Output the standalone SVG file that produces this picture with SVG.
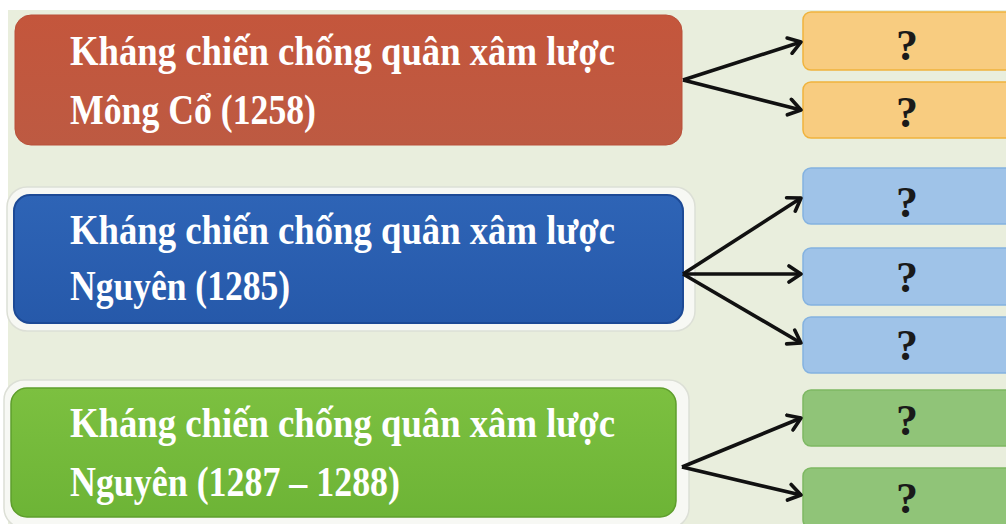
<svg xmlns="http://www.w3.org/2000/svg" width="1006" height="524" viewBox="0 0 1006 524">
  <defs>
    <marker id="arr" markerWidth="20" markerHeight="20" refX="15" refY="10" orient="auto" markerUnits="userSpaceOnUse">
      <path d="M3,2 L15,10 L3,18" fill="none" stroke="#111" stroke-width="3.6" stroke-linecap="round" stroke-linejoin="round"/>
    </marker>
    <linearGradient id="gRed" x1="0" y1="0" x2="0" y2="1">
      <stop offset="0" stop-color="#c4563c"/>
      <stop offset="1" stop-color="#bd5a42"/>
    </linearGradient>
    <linearGradient id="gBlue" x1="0" y1="0" x2="0" y2="1">
      <stop offset="0" stop-color="#2e64b6"/>
      <stop offset="1" stop-color="#2659aa"/>
    </linearGradient>
    <linearGradient id="gGreen" x1="0" y1="0" x2="0" y2="1">
      <stop offset="0" stop-color="#7cc040"/>
      <stop offset="1" stop-color="#6db436"/>
    </linearGradient>
  </defs>
  <style>
    .big { font-family: "Liberation Serif", "Times New Roman", serif; font-weight: bold; font-size: 43px; fill: #ffffff; }
    .q { font-family: "Liberation Serif", "Times New Roman", serif; font-weight: bold; font-size: 44px; fill: #1a1a1a; text-anchor: middle; }
    .glow { fill: #f7f8f4; stroke: #dcdfd6; stroke-width: 1.5; }
    .yel { fill: #f8cc80; stroke: #f0b33c; stroke-width: 1.5; }
    .lblue { fill: #9fc3e8; stroke: #84b2e0; stroke-width: 1.5; }
    .lgreen { fill: #90c478; stroke: #7db862; stroke-width: 1.5; }
    .conn line { stroke: #111; stroke-width: 3.6; marker-end: url(#arr); }
  </style>
  <rect x="0" y="0" width="1006" height="524" fill="#ffffff"/>
  <rect x="8" y="10" width="998" height="514" fill="#e9eedd"/>

  <g id="node-red">
    <rect x="15" y="15" width="667" height="130" rx="16" fill="url(#gRed)" stroke="#b9503a" stroke-width="1"/>
    <text class="big" x="70" y="65" textLength="545" lengthAdjust="spacingAndGlyphs">Kháng chiến chống quân xâm lược</text>
    <text class="big" x="70" y="124" textLength="246" lengthAdjust="spacingAndGlyphs">Mông Cổ (1258)</text>
  </g>
  <g id="node-y1">
    <rect class="yel" x="803" y="12" width="215" height="58" rx="8"/>
    <text class="q" x="907" y="60">?</text>
  </g>
  <g id="node-y2">
    <rect class="yel" x="803" y="82" width="215" height="56" rx="8"/>
    <text class="q" x="907" y="127">?</text>
  </g>

  <g id="node-blue">
    <rect class="glow" x="7" y="187" width="688" height="144" rx="20"/>
    <rect x="14" y="195" width="669" height="128" rx="16" fill="url(#gBlue)" stroke="#1d4a96" stroke-width="2"/>
    <text class="big" x="70" y="244" textLength="545" lengthAdjust="spacingAndGlyphs">Kháng chiến chống quân xâm lược</text>
    <text class="big" x="70" y="300" textLength="220" lengthAdjust="spacingAndGlyphs">Nguyên (1285)</text>
  </g>
  <g id="node-b1">
    <rect class="lblue" x="803" y="168" width="215" height="56" rx="8"/>
    <text class="q" x="907" y="217">?</text>
  </g>
  <g id="node-b2">
    <rect class="lblue" x="803" y="248" width="215" height="57" rx="8"/>
    <text class="q" x="907" y="292">?</text>
  </g>
  <g id="node-b3">
    <rect class="lblue" x="803" y="317" width="215" height="56" rx="8"/>
    <text class="q" x="907" y="360">?</text>
  </g>

  <g id="node-green">
    <rect class="glow" x="4" y="380" width="685" height="148" rx="20"/>
    <rect x="11" y="388" width="665" height="129" rx="16" fill="url(#gGreen)" stroke="#5e9e2c" stroke-width="1.5"/>
    <text class="big" x="70" y="437" textLength="545" lengthAdjust="spacingAndGlyphs">Kháng chiến chống quân xâm lược</text>
    <text class="big" x="70" y="496" textLength="330" lengthAdjust="spacingAndGlyphs">Nguyên (1287 – 1288)</text>
  </g>
  <g id="node-g1">
    <rect class="lgreen" x="803" y="390" width="215" height="56" rx="8"/>
    <text class="q" x="907" y="435">?</text>
  </g>
  <g id="node-g2">
    <rect class="lgreen" x="803" y="468" width="215" height="60" rx="8"/>
    <text class="q" x="907" y="513">?</text>
  </g>

  <g id="connectors" class="conn">
    <line x1="683" y1="80" x2="801" y2="42"/>
    <line x1="683" y1="80" x2="801" y2="110"/>
    <line x1="683" y1="274" x2="801" y2="198"/>
    <line x1="683" y1="274" x2="801" y2="274"/>
    <line x1="683" y1="274" x2="801" y2="343"/>
    <line x1="682" y1="467" x2="801" y2="418"/>
    <line x1="682" y1="467" x2="801" y2="495"/>
  </g>
</svg>
